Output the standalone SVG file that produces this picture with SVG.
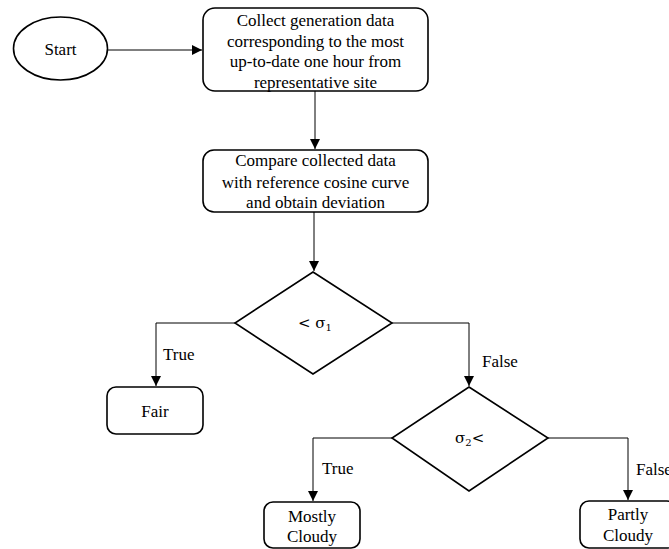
<svg xmlns="http://www.w3.org/2000/svg" width="669" height="549" viewBox="0 0 669 549">
  <style>
    .shape { fill: #ffffff; stroke: #000000; stroke-width: 1.6; }
    .conn { fill: none; stroke: #000000; stroke-width: 1; }
    text { font-family: "Liberation Serif", "Times New Roman", serif; font-size: 17px; fill: #000000; }
    .c { text-anchor: middle; }
  </style>
  <defs>
    <marker id="arrow" viewBox="0 0 10 10" refX="10" refY="5" markerWidth="10" markerHeight="10" markerUnits="userSpaceOnUse" orient="auto">
      <path d="M0,0 L10,5 L0,10 Z" fill="#000000"/>
    </marker>
  </defs>
  <rect width="669" height="549" fill="#ffffff"/>

  <!-- connectors -->
  <g id="connectors">
    <path class="conn" d="M108,50 L202,50" marker-end="url(#arrow)"/>
    <path class="conn" d="M315,91 L315,149" marker-end="url(#arrow)"/>
    <path class="conn" d="M314,212 L314,271" marker-end="url(#arrow)"/>
    <path class="conn" d="M235,323 L156,323 L156,386" marker-end="url(#arrow)"/>
    <path class="conn" d="M392,323 L469,323 L469,386" marker-end="url(#arrow)"/>
    <path class="conn" d="M392,438 L313,438 L313,501" marker-end="url(#arrow)"/>
    <path class="conn" d="M548,438 L628,438 L628,500" marker-end="url(#arrow)"/>
    <text x="163" y="360">True</text>
    <text x="482" y="367">False</text>
    <text x="322" y="474">True</text>
    <text x="636" y="475">False</text>
  </g>

  <g id="start">
    <ellipse class="shape" cx="60.5" cy="48.5" rx="47" ry="31.5"/>
    <text class="c" x="60.5" y="55">Start</text>
  </g>

  <g id="collect">
    <rect class="shape" x="203" y="8" width="225" height="83" rx="12"/>
    <text class="c" x="315.5" y="26">Collect generation data</text>
    <text class="c" x="315.5" y="46.5">corresponding to the most</text>
    <text class="c" x="315.5" y="67">up-to-date one hour from</text>
    <text class="c" x="315.5" y="87.5">representative site</text>
  </g>

  <g id="compare">
    <rect class="shape" x="203" y="150" width="225" height="62" rx="11"/>
    <text class="c" x="315.5" y="166">Compare collected data</text>
    <text class="c" x="315.5" y="187.5">with reference cosine curve</text>
    <text class="c" x="315.5" y="208">and obtain deviation</text>
  </g>

  <g id="decision1">
    <polygon class="shape" points="313,272 392,323 313,374 235,323"/>
    <text x="298" y="328" style="font-family:'DejaVu Serif','Liberation Serif',serif;font-size:15px">&lt; σ<tspan font-size="10" dy="3">1</tspan></text>
  </g>

  <g id="fair">
    <rect class="shape" x="107" y="387" width="96" height="47" rx="9"/>
    <text class="c" x="155" y="417">Fair</text>
  </g>

  <g id="decision2">
    <polygon class="shape" points="469,387 548,438 469,491 392,438"/>
    <text x="455" y="443" style="font-family:'DejaVu Serif','Liberation Serif',serif;font-size:15px">σ<tspan font-size="10" dy="3">2</tspan><tspan dy="-3">&lt;</tspan></text>
  </g>

  <g id="mostly-cloudy">
    <rect class="shape" x="264" y="502" width="96" height="46" rx="9"/>
    <text class="c" x="312" y="522">Mostly</text>
    <text class="c" x="312" y="542">Cloudy</text>
  </g>

  <g id="partly-cloudy">
    <rect class="shape" x="580" y="501" width="96" height="47" rx="9"/>
    <text class="c" x="628" y="520">Partly</text>
    <text class="c" x="628" y="541">Cloudy</text>
  </g>
</svg>
